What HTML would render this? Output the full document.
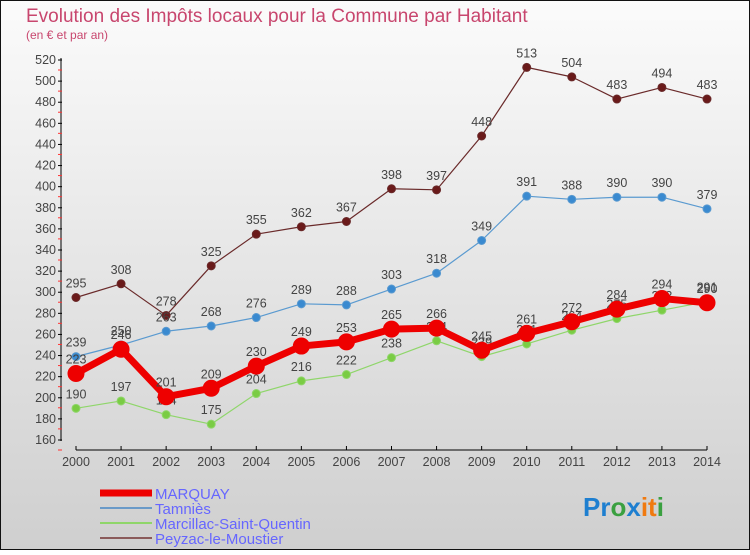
<!DOCTYPE html>
<html><head><meta charset="utf-8"><style>
body{margin:0}
svg text{font-family:"Liberation Sans",sans-serif}
</style></head><body>
<svg width="750" height="550" xmlns="http://www.w3.org/2000/svg">
<defs><linearGradient id="bg" x1="0" y1="0" x2="0" y2="1"><stop offset="0" stop-color="#fbfbfb"/><stop offset="1" stop-color="#cfcfcf"/></linearGradient></defs>
<rect x="0.5" y="0.5" width="749" height="549" fill="url(#bg)" stroke="#111"/>
<text x="26" y="22" font-size="19" fill="#c8466e">Evolution des Impôts locaux pour la Commune par Habitant</text>
<text x="26" y="39" font-size="12" fill="#c8466e">(en € et par an)</text>
<g id="axes"></g><g id="series"></g>
<g>
<line x1="100" y1="493" x2="152" y2="493" stroke="#e00" stroke-width="7"/>
<text x="155" y="499" font-size="15" fill="#6666ff">MARQUAY</text>
<line x1="100" y1="508" x2="152" y2="508" stroke="#6a9ac8" stroke-width="2"/>
<text x="155" y="514" font-size="15" fill="#6666ff">Tamniès</text>
<line x1="100" y1="523" x2="152" y2="523" stroke="#8fd66a" stroke-width="2"/>
<text x="155" y="529" font-size="15" fill="#6666ff">Marcillac-Saint-Quentin</text>
<line x1="100" y1="538" x2="152" y2="538" stroke="#8a5a5a" stroke-width="2"/>
<text x="155" y="544" font-size="15" fill="#6666ff">Peyzac-le-Moustier</text>
</g>
<text x="583" y="516" font-size="26" font-weight="bold"><tspan fill="#1e7fd0">Pr</tspan><tspan fill="#3aa040">o</tspan><tspan fill="#1e7fd0">x</tspan><tspan fill="#f07a10">it</tspan><tspan fill="#3aa040">i</tspan></text>
</svg>
<script>
const years=[2000,2001,2002,2003,2004,2005,2006,2007,2008,2009,2010,2011,2012,2013,2014];
const yTicks=[160,180,200,220,240,260,280,300,320,340,360,380,400,420,440,460,480,500,520];
const marquay=[223,246,201,209,230,249,253,265,266,245,261,272,284,294,290];
const tamnies=[239,250,263,268,276,289,288,303,318,349,391,388,390,390,379];
const marcillac=[190,197,184,175,204,216,222,238,254,239,251,264,275,283,291];
const peyzac=[295,308,278,325,355,362,367,398,397,448,513,504,483,494,483];
const NS='http://www.w3.org/2000/svg';
const X=i=>76+i*(707-76)/14;
const Y=v=>440-(v-160)*(380/360);
function mk(t,a,p){const e=document.createElementNS(NS,t);for(const k in a)e.setAttribute(k,a[k]);p.appendChild(e);return e;}
const ax=document.getElementById('axes');
mk('line',{x1:61,y1:58,x2:61,y2:441,stroke:'#000'},ax);
mk('line',{x1:76,y1:450,x2:707,y2:450,stroke:'#000'},ax);
yTicks.forEach(v=>{mk('line',{x1:58,y1:Y(v),x2:62,y2:Y(v),stroke:'#000'},ax);
mk('line',{x1:58,y1:Y(v)+10,x2:62,y2:Y(v)+10,stroke:'#f33'},ax);
const t=mk('text',{x:56,y:Y(v)+4,'font-size':12.5,fill:'#444','text-anchor':'end'},ax);t.textContent=v;
});
years.forEach((y,i)=>{mk('line',{x1:X(i),y1:446,x2:X(i),y2:450,stroke:'#000'},ax);
const t=mk('text',{x:X(i),y:466,'font-size':12.5,fill:'#444','text-anchor':'middle'},ax);t.textContent=y;
});
const sg=document.getElementById('series');
function series(name,data,color,w,r,dot){
const g=mk('g',{},sg);


mk('polyline',{points:data.map((v,i)=>X(i)+','+Y(v)).join(' '),fill:'none',stroke:color,'stroke-width':w,'stroke-linejoin':'round'},g);
data.forEach((v,i)=>{const c=mk('circle',{cx:X(i),cy:Y(v),r:r,fill:dot,stroke:color,'stroke-width':1},g);


const t=mk('text',{x:X(i),y:Y(v)-10,'font-size':12.5,fill:'#444','text-anchor':'middle'},g);t.textContent=v;});
}
series('peyzac-line',peyzac,'#6a2a2a',1.2,4,'#6a1a1a');
series('tamnies-line',tamnies,'#5a9ad0',1.2,4,'#3a8ad0');
series('marcillac-line',marcillac,'#8fd66a',1.2,4,'#7acc44');
series('marquay-line',marquay,'#ee0000',7,8,'#ee0000');
</script>
</body></html>
